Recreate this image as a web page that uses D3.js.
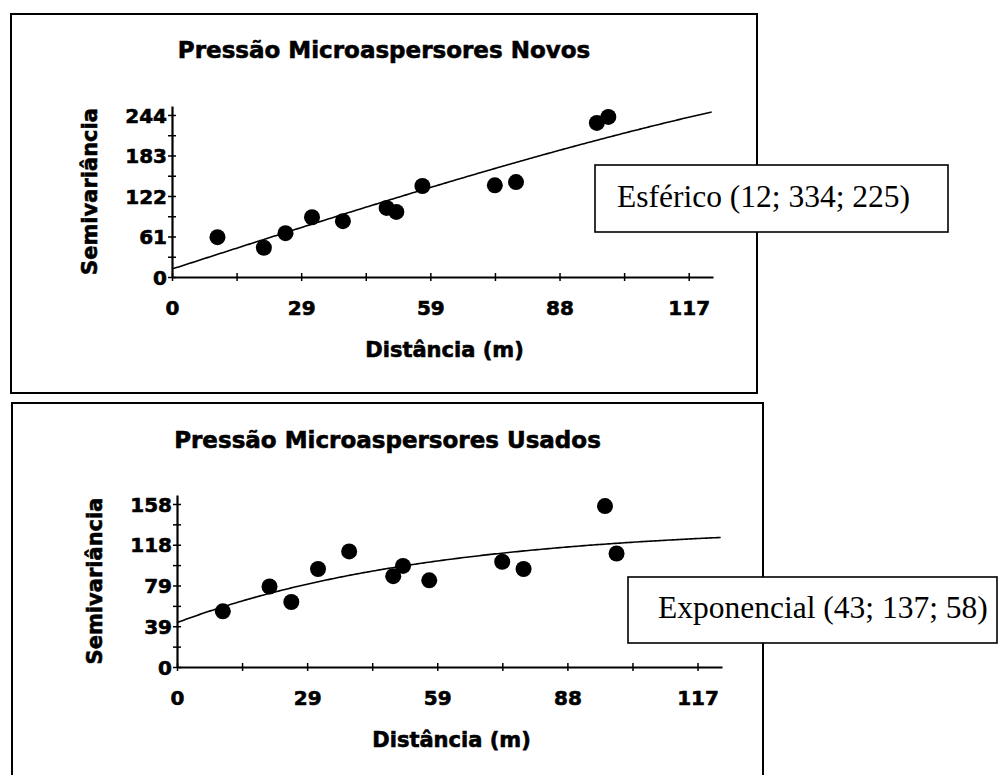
<!DOCTYPE html>
<html>
<head>
<meta charset="utf-8">
<script src="https://cdn.jsdelivr.net/npm/d3@7"></script>
<style>
  html, body { margin: 0; padding: 0; background: #fff; }
  svg { display: block; }
  .sans { font-family: "DejaVu Sans", Verdana, sans-serif; font-weight: bold; fill: #000;
          stroke: #000; stroke-width: 0.6px; }
  .serif { font-family: "Liberation Serif", "Times New Roman", serif; fill: #000; }
</style>
</head>
<body>
<svg id="chart" width="999" height="775"></svg>
<script>
// Lag distances (m) shared by both semivariograms
const lags = [10.3, 20.8, 25.7, 31.7, 38.7, 48.6, 50.8, 56.7, 73.1, 77.9, 96.2, 98.8];

// Experimental semivariance, new micro-sprinklers
const gammaNovos = [60, 44, 66, 90, 84, 104, 98, 137, 138, 143, 232, 241];
// Experimental semivariance, used micro-sprinklers
const gammaUsados = [54, 78, 63, 95, 112, 88, 98, 84, 102, 95, 156, 110];

// Axis ticks
const xTickValues = [0, 29.25, 58.5, 87.75, 117];
const xTickLabels = ["0", "29", "59", "88", "117"];
const yTickValuesNovos = [0, 61, 122, 183, 244];
const yTickLabelsNovos = ["0", "61", "122", "183", "244"];
const yTickValuesUsados = [0, 39.5, 79, 118.5, 158];
const yTickLabelsUsados = ["0", "39", "79", "118", "158"];

// Axis extents
const xAxisMax = [122.5, 122.5];
const yAxisMax = [257.5, 166.7];

// Fitted model parameters: nugget, sill, range
const esferico = [12, 334, 225];
const exponencial = [43, 137, 58];

// Texts
const titles = ["Pressão Microaspersores Novos", "Pressão Microaspersores Usados"];
const modelLabels = ["Esférico (12; 334; 225)", "Exponencial (43; 137; 58)"];
const xTitle = "Distância (m)";
const yTitle = "Semivariância";

function spherical([c0, sill, a]) {
  return h => h >= a ? sill : c0 + (sill - c0) * (1.5 * h / a - 0.5 * Math.pow(h / a, 3));
}
function exponential([c0, sill, a]) {
  return h => c0 + (sill - c0) * (1 - Math.exp(-h / a));
}

// Page layout of the two framed panels
const layout = [
  { frame: [11, 14, 746, 379], plotX: [172, 713], plotY: [277, 106], titleY: 58,
    labelBox: [595, 165, 353, 67], labelText: [617, 207] },
  { frame: [12, 403, 751, 400], plotX: [177, 722], plotY: [667, 495], titleY: 448,
    labelBox: [628, 577, 369, 66], labelText: [658, 618] }
];

const panels = [
  { gamma: gammaNovos, yTicks: yTickValuesNovos, yLabels: yTickLabelsNovos,
    model: spherical(esferico), title: titles[0], label: modelLabels[0] },
  { gamma: gammaUsados, yTicks: yTickValuesUsados, yLabels: yTickLabelsUsados,
    model: exponential(exponencial), title: titles[1], label: modelLabels[1] }
];

const svg = d3.select("#chart");

panels.forEach((p, i) => {
  const L = layout[i];
  const g = svg.append("g");

  // Panel frame
  g.append("rect")
    .attr("x", L.frame[0]).attr("y", L.frame[1])
    .attr("width", L.frame[2]).attr("height", L.frame[3])
    .attr("fill", "#fff").attr("stroke", "#000").attr("stroke-width", 2);

  const x = d3.scaleLinear().domain([0, xAxisMax[i]]).range(L.plotX);
  const y = d3.scaleLinear().domain([0, yAxisMax[i]]).range(L.plotY);

  const frameCx = L.frame[0] + L.frame[2] / 2;
  const plotCx = (L.plotX[0] + L.plotX[1]) / 2;
  const plotCy = (L.plotY[0] + L.plotY[1]) / 2;

  // Title
  g.append("text").attr("class", "sans")
    .attr("x", frameCx).attr("y", L.titleY)
    .attr("text-anchor", "middle").style("font-size", "23px")
    .text(p.title);

  // Minor ticks (half intervals)
  const xMinor = d3.pairs(xTickValues).map(([a, b]) => (a + b) / 2);
  const yMinor = d3.pairs(p.yTicks).map(([a, b]) => (a + b) / 2);

  // X axis
  const gx = g.append("g").attr("transform", `translate(0,${L.plotY[0]})`);
  gx.call(d3.axisBottom(x).tickValues(xTickValues)
      .tickFormat((d, k) => xTickLabels[k]).tickSize(4).tickSizeOuter(0));
  gx.append("g").call(d3.axisBottom(x).tickValues(xMinor).tickFormat("").tickSize(4).tickSizeOuter(0))
    .select(".domain").remove();
  gx.selectAll(".tick line").attr("y1", -4).attr("y2", 4).attr("stroke", "#000").attr("stroke-width", 1.5);
  gx.selectAll(".domain").attr("stroke", "#000").attr("stroke-width", 2.2);
  gx.selectAll(".tick text").attr("class", "sans").attr("y", 38).attr("dy", null)
    .style("font-size", "20px");

  // Y axis
  const gy = g.append("g").attr("transform", `translate(${L.plotX[0]},0)`);
  gy.call(d3.axisLeft(y).tickValues(p.yTicks)
      .tickFormat((d, k) => p.yLabels[k]).tickSize(4).tickSizeOuter(0));
  gy.append("g").call(d3.axisLeft(y).tickValues(yMinor).tickFormat("").tickSize(4).tickSizeOuter(0))
    .select(".domain").remove();
  gy.selectAll(".tick line").attr("x1", -4).attr("x2", 4).attr("stroke", "#000").attr("stroke-width", 1.5);
  gy.selectAll(".domain").attr("stroke", "#000").attr("stroke-width", 2.2);
  gy.selectAll(".tick text").attr("class", "sans").attr("x", -5).attr("dy", "0.36em")
    .style("font-size", "20px");

  // Axis titles
  g.append("text").attr("class", "sans")
    .attr("x", plotCx + 2).attr("y", L.plotY[0] + 80)
    .attr("text-anchor", "middle").style("font-size", "21px")
    .text(xTitle);
  g.append("text").attr("class", "sans")
    .attr("transform", `translate(${L.plotX[0] - 75},${plotCy}) rotate(-90)`)
    .attr("text-anchor", "middle").style("font-size", "21px")
    .text(yTitle);

  // Fitted model curve
  const hs = d3.range(0, 122.2, 0.5).concat([122.2]);
  g.append("path")
    .datum(hs)
    .attr("fill", "none").attr("stroke", "#000").attr("stroke-width", 1.6)
    .attr("d", d3.line().x(h => x(h)).y(h => y(p.model(h))));

  // Experimental points
  g.selectAll("circle.pt")
    .data(lags.map((h, k) => [h, p.gamma[k]]))
    .join("circle").attr("class", "pt")
    .attr("cx", d => x(d[0])).attr("cy", d => y(d[1]))
    .attr("r", 8).attr("fill", "#000");
});

// Model label boxes, drawn above both frames
panels.forEach((p, i) => {
  const L = layout[i];
  svg.append("rect")
    .attr("x", L.labelBox[0]).attr("y", L.labelBox[1])
    .attr("width", L.labelBox[2]).attr("height", L.labelBox[3])
    .attr("fill", "#fff").attr("stroke", "#000").attr("stroke-width", 1.6);
  svg.append("text").attr("class", "serif")
    .attr("x", L.labelText[0]).attr("y", L.labelText[1])
    .style("font-size", "31.5px")
    .text(p.label);
});
</script>
</body>
</html>
